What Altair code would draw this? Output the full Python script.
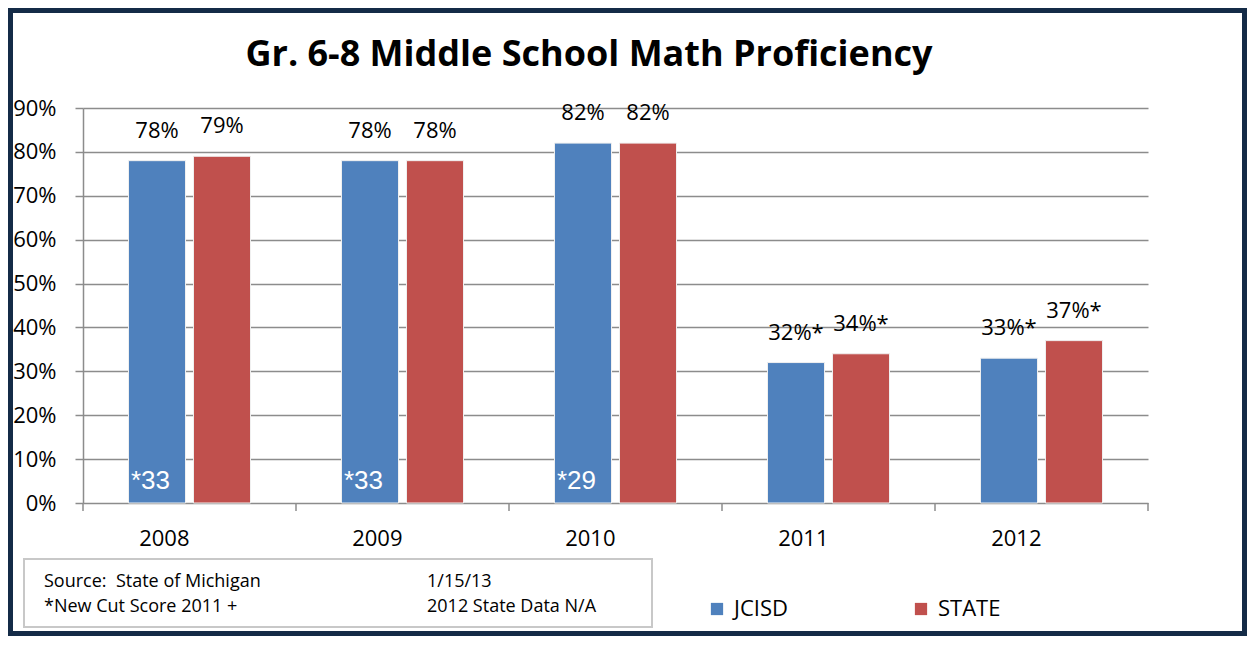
import altair as alt
import pandas as pd

# ---- data ----
years = ["2008", "2009", "2010", "2011", "2012"]
series = ["JCISD", "STATE"]
jcisd = [0.78, 0.78, 0.82, 0.32, 0.33]
state = [0.79, 0.78, 0.82, 0.34, 0.37]
jcisd_labels = ["78%", "78%", "82%", "32%*", "33%*"]
state_labels = ["79%", "78%", "82%", "34%*", "37%*"]
inner_labels = ["*33", "*33", "*29", "", ""]
y_ticks = [0, 0.1, 0.2, 0.3, 0.4, 0.5, 0.6, 0.7, 0.8, 0.9]
title_text = "Gr. 6-8 Middle School Math Proficiency"
note_left = ["Source:\u00a0\u00a0State of Michigan", "*New Cut Score 2011 +"]
note_right = ["1/15/13", "2012 State Data N/A"]
colors = ["#4F81BD", "#C0504D"]

rows = []
for i, y in enumerate(years):
    rows.append({"year": y, "series": "JCISD", "value": jcisd[i], "label": jcisd_labels[i], "inner": inner_labels[i]})
    rows.append({"year": y, "series": "STATE", "value": state[i], "label": state_labels[i], "inner": ""})
df = pd.DataFrame(rows)

W, H = 1065, 395
PL, PT, PR, PB = 75, 100, 99, 133
FONT = "Open Sans"

xscale = alt.Scale(domain=years, paddingInner=0, paddingOuter=0)
xoff = alt.Scale(domain=series, paddingInner=0.123, paddingOuter=0.7)
yscale = alt.Scale(domain=[0, 0.9], nice=False)

base = alt.Chart(df)

bars = base.mark_bar(stroke="#f0f0f0", strokeWidth=1).encode(
    x=alt.X("year:N", scale=xscale,
            axis=alt.Axis(title=None, labelAngle=0, ticks=False, domain=False,
                          labelFont=FONT, labelFontSize=22, labelColor="#000000",
                          labelPadding=35, grid=False)),
    xOffset=alt.XOffset("series:N", scale=xoff),
    y=alt.Y("value:Q", scale=yscale,
            axis=alt.Axis(title=None, values=y_ticks, format=".0%",
                          labelFont=FONT, labelFontSize=22, labelColor="#000000",
                          labelPadding=19, tickSize=8, tickColor="#8c8c8c", tickWidth=1.5,
                          domainColor="#8c8c8c", domainWidth=1.5,
                          grid=True, gridColor="#8c8c8c", gridWidth=1.5)),
    color=alt.Color("series:N", scale=alt.Scale(domain=series, range=colors),
                    legend=alt.Legend(title=None, orient="none", legendX=623, legendY=490,
                                      direction="horizontal", symbolType="square",
                                      symbolSize=150, symbolStrokeWidth=0,
                                      labelFont=FONT, labelFontSize=22, labelColor="#000000",
                                      columnPadding=113, gridAlign="all", padding=0,
                                      labelOffset=6)),
)

labels = base.mark_text(font=FONT, fontSize=22, color="#000000", baseline="middle", dy=-30).encode(
    x=alt.X("year:N", scale=xscale),
    xOffset=alt.XOffset("series:N", scale=xoff),
    y=alt.Y("value:Q", scale=yscale),
    text="label:N",
)

inner = base.mark_text(font="Liberation Sans", fontSize=26, color="#ffffff", align="left",
                       baseline="middle", dx=-26).encode(
    x=alt.X("year:N", scale=xscale),
    xOffset=alt.XOffset("series:N", scale=xoff),
    y=alt.value(H - 22),
    text="inner:N",
)

ticks_df = pd.DataFrame({"year": years})
xticks = alt.Chart(ticks_df).mark_rule(color="#8c8c8c", strokeWidth=1.5).encode(
    x=alt.X("year:N", scale=xscale, bandPosition=0),
    y=alt.value(H), y2=alt.value(H + 8),
)
last_tick = alt.Chart(ticks_df.head(1)).mark_rule(color="#8c8c8c", strokeWidth=1.5).encode(
    x=alt.value(W), y=alt.value(H), y2=alt.value(H + 8),
)

title = alt.Chart(pd.DataFrame({"t": [title_text]})).mark_text(
    font=FONT, fontSize=36, fontWeight="bold", color="#000000", align="center", baseline="middle"
).encode(x=alt.value(506), y=alt.value(-53), text="t:N")

note_df = pd.DataFrame({"t": note_left + note_right,
                        "col": [0, 0, 1, 1], "row": [0, 1, 0, 1]})
box = alt.Chart(note_df.head(1)).mark_rect(filled=False, stroke="#c8c8c8", strokeWidth=2).encode(
    x=alt.value(-59), x2=alt.value(569), y=alt.value(451), y2=alt.value(519),
)
notes = []
for i, t in enumerate(note_left):
    notes.append(alt.Chart(pd.DataFrame({"t": [t]})).mark_text(
        font=FONT, fontSize=18, color="#000000", align="left", baseline="middle"
    ).encode(x=alt.value(-39), y=alt.value(474 + 25 * i), text="t:N"))
for i, t in enumerate(note_right):
    notes.append(alt.Chart(pd.DataFrame({"t": [t]})).mark_text(
        font=FONT, fontSize=18, color="#000000", align="left", baseline="middle"
    ).encode(x=alt.value(344), y=alt.value(474 + 25 * i), text="t:N"))

frame = alt.Chart(note_df.head(1)).mark_rect(filled=False, stroke="#142B47", strokeWidth=5).encode(
    x=alt.value(-PL + 2.5), x2=alt.value(W + PR - 2.5),
    y=alt.value(-PT + 2.5), y2=alt.value(H + PB - 2.5),
)

chart = alt.layer(xticks, last_tick, bars, labels, inner, title, box, *notes, frame).properties(
    width=W, height=H,
    autosize=alt.AutoSizeParams(type="none"),
    padding={"left": PL, "top": PT, "right": PR, "bottom": PB},
).configure_view(stroke=None)

chart.save("out.html", embed_options={"renderer": "svg", "actions": False})
